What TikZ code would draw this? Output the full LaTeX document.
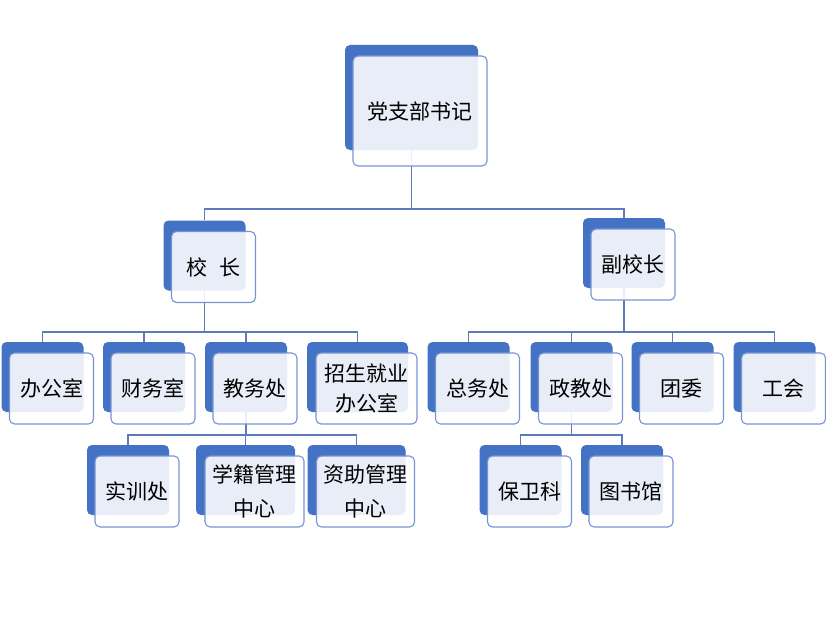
\documentclass[tikz,border=0pt]{standalone}
\usepackage{fontspec}
\newfontfamily\cjk{Noto Sans CJK SC}
\usetikzlibrary{backgrounds}
\definecolor{backblue}{RGB}{68,114,196}
\definecolor{edgeblue}{RGB}{118,148,210}
\definecolor{linkblue}{RGB}{92,122,188}
\tikzset{
  backbox/.style={fill=backblue, rounded corners=5pt, minimum width=82pt, minimum height=70pt, inner sep=0pt},
  frontbox/.style={fill=white, fill opacity=0.88, text opacity=1, draw=edgeblue, draw opacity=1,
    line width=1.1pt, rounded corners=5pt, minimum width=84pt, minimum height=71pt, inner sep=0pt,
    align=center, font=\cjk\fontsize{21}{30}\selectfont},
  link/.style={draw=linkblue, line width=1.1pt},
  tall/.style={font=\cjk\fontsize{21}{34}\selectfont},
}
\newcommand{\orgnode}[5][]{%
  \node[backbox,#1] (#2) at (#3,#4) {};
  \node[frontbox,#1] (#2f) at ([shift={(9,11.5)}]#2.center) {#5};
}
\begin{document}
\begin{tikzpicture}[x=1pt,y=-1pt]
\useasboundingbox (0,0) rectangle (826,626);

% level 1
\node[backbox, minimum width=133pt, minimum height=105pt] (top) at (411.5,97.5) {};
\node[frontbox, minimum width=134pt, minimum height=110pt] (topf) at (420,111) {党支部书记};
% level 2
\orgnode{xz}{204.5}{255.5}{校\hspace{0.6em}长}
\orgnode{fx}{624}{253}{副校长}
% level 3
\orgnode{bgs}{42.5}{377}{办公室}
\orgnode{cw}{144}{377}{财务室}
\orgnode{jw}{246}{377}{教务处}
\orgnode[minimum width=101pt]{zs}{357.5}{377}{招生就业\\办公室}
\orgnode{zw}{468.5}{377}{总务处}
\orgnode{zj}{571.5}{377}{政教处}
\orgnode{tw}{672.5}{377}{团委}
\orgnode{gh}{774.5}{377}{工会}
% level 4
\orgnode{sx}{128}{480}{实训处}
\orgnode[minimum width=99pt,tall]{xj}{245.5}{480}{学籍管理\\中心}
\orgnode[minimum width=98pt,tall]{zz}{356.5}{480}{资助管理\\中心}
\orgnode{bw}{520.5}{480}{保卫科}
\orgnode{ts}{622}{480}{图书馆}

\begin{scope}[on background layer]
  \coordinate (j0) at (411.5,209);
  \draw[link] (top.south) -- (j0) -| (xz.north);
  \draw[link] (j0) -| (fx.north);

  \coordinate (j1) at (204.5,332);
  \draw[link] (xz.south) -- (j1);
  \draw[link] (bgs.north) |- (j1) -| (zs.north);
  \draw[link] (cw.north) -- (cw.north |- j1);
  \draw[link] (jw.north) -- (jw.north |- j1);

  \coordinate (j2) at (624,332);
  \draw[link] (fx.south) -- (j2);
  \draw[link] (zw.north) |- (j2) -| (gh.north);
  \draw[link] (zj.north) -- (zj.north |- j2);
  \draw[link] (tw.north) -- (tw.north |- j2);

  \coordinate (j3) at (246,435);
  \draw[link] (jw.south) -- (j3);
  \draw[link] (sx.north) |- (j3) -| (zz.north);
  \draw[link] (xj.north) -- (xj.north |- j3);

  \coordinate (j4) at (571.5,435);
  \draw[link] (zj.south) -- (j4);
  \draw[link] (bw.north) |- (j4) -| (ts.north);
\end{scope}
\end{tikzpicture}
\end{document}
